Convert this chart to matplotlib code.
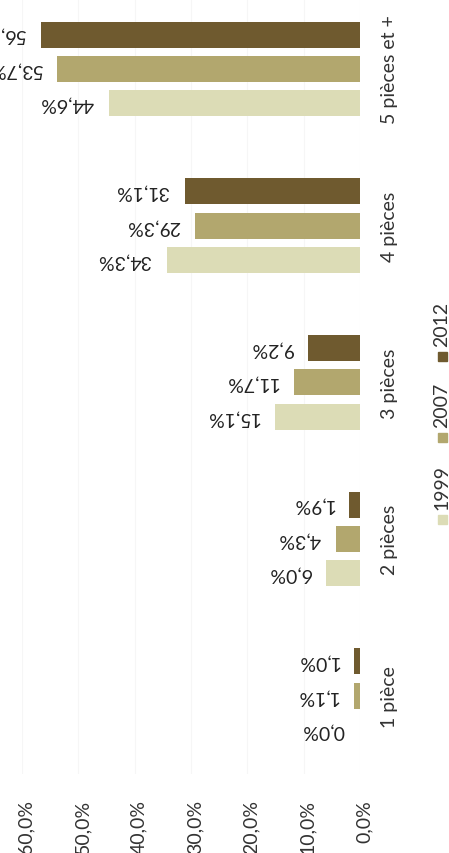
import matplotlib
matplotlib.use("Agg")
import matplotlib.pyplot as plt
from matplotlib.patches import Rectangle
from matplotlib.transforms import ScaledTranslation

# Share of dwellings by number of rooms
categories = ["1 pièce", "2 pièces", "3 pièces", "4 pièces", "5 pièces et +"]
years = ["1999", "2007", "2012"]
values_1999 = [0.0, 6.0, 15.1, 34.3, 44.6]
values_2007 = [1.1, 4.3, 11.7, 29.3, 53.7]
values_2012 = [1.0, 1.9, 9.2, 31.1, 56.7]
tick_values = [0, 10, 20, 30, 40, 50, 60]

colors = ["#dcdcb6", "#b2a76e", "#6f5a2f"]
series = [values_1999, values_2007, values_2012]
offsets = [-0.22, 0.0, 0.22]
bar_h = 0.166
FS = 14

plt.rcParams["font.family"] = ["Lato", "DejaVu Sans"]
W, H = 449, 854
fig = plt.figure(figsize=(W / 100, H / 100), dpi=100)
ax = fig.add_axes([22 / W, 1 - 775 / H, 338 / W, 775 / H])

def fmt(v):
    return f"{v:.1f}".replace(".", ",") + "%"

for vals, col, off in zip(series, colors, offsets):
    ys = [i + off for i in range(len(categories))]
    ax.barh(ys, vals, height=bar_h, color=col, edgecolor="none", zorder=2)
    for y, v in zip(ys, vals):
        ax.annotate(fmt(v), xy=(v, y), xytext=(-11, 0), textcoords="offset points",
                    rotation=180, ha="right", va="center", fontsize=FS,
                    color="#222222", annotation_clip=False)

ax.set_xlim(60, 0)
ax.set_ylim(-0.5, 4.447)
ax.set_xticks(tick_values)
ax.set_xticklabels([fmt(v) for v in tick_values], rotation=90, fontsize=FS, color="#333333")
ax.set_yticks(range(len(categories)))
ax.yaxis.tick_right()
ax.set_yticklabels(categories, rotation=90, va="center", fontsize=FS, color="#333333")
ax.tick_params(axis="x", length=0, pad=18)
ax.tick_params(axis="y", length=0, pad=15)
# nudge the rotated value-axis labels so the digits sit centred on their ticks
shift = ScaledTranslation(3 / 72, 0, fig.dpi_scale_trans)
for lab in ax.get_xticklabels():
    lab.set_transform(lab.get_transform() + shift)
for s in ax.spines.values():
    s.set_visible(False)
ax.grid(axis="x", color="#f6f6f6", linewidth=0.8, zorder=0)
ax.set_axisbelow(True)

# Legend drawn as rotated labels with square markers
leg_x = 442
marker_ys = [520, 438, 357]
for yr, col, my in zip(years, colors, marker_ys):
    fig.patches.append(Rectangle(((leg_x - 4.5) / W, 1 - (my + 4.5) / H), 9 / W, 9 / H,
                                 transform=fig.transFigure, color=col, figure=fig))
    fig.text(leg_x / W, 1 - (my - 10) / H, yr, rotation=90, ha="center", va="bottom",
             fontsize=FS, color="#333333")

fig.savefig("out.png", dpi=100)
